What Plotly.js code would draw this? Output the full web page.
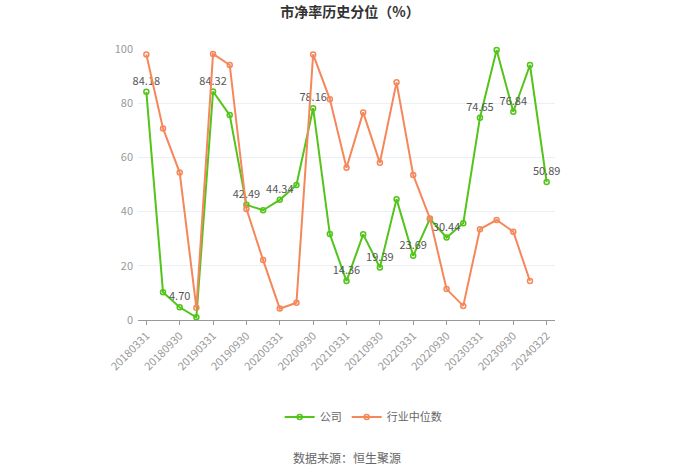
<!DOCTYPE html>
<html>
<head>
<meta charset="utf-8">
<script src="https://cdn.plot.ly/plotly-3.0.1.min.js"></script>
<style>html,body{margin:0;padding:0;background:#fff;}#chart{width:700px;height:473px;}</style>
</head>
<body>
<div id="chart"></div>
<script>
const categories = ["20180331","20180630","20180930","20181231","20190331","20190630","20190930","20191231","20200331","20200630","20200930","20201231","20210331","20210630","20210930","20211231","20220331","20220630","20220930","20221231","20230331","20230630","20230930","20231231","20240322"];
const companyValues = [84.18,10.2,4.70,1.0,84.32,75.6,42.49,40.5,44.34,49.8,78.16,31.7,14.36,31.6,19.39,44.6,23.69,37.3,30.44,35.7,74.65,99.6,76.84,94.1,50.89];
const industryValues = [98.0,70.7,54.4,4.5,98.2,94.1,41.0,22.1,4.2,6.4,98.0,81.5,56.2,76.6,58.0,87.7,53.5,37.5,11.4,5.2,33.5,36.9,32.6,14.4,null];
const tickLabels = categories.filter((c,i)=>i%2===0);
const labelText = companyValues.map((v,i)=> i%2===0 ? v.toFixed(2) : "");

const green = "#52c41a";
const orange = "#f5875a";
const font = "Noto Sans CJK SC, Noto Sans, sans-serif";

const traces = [
  {
    x: categories, y: companyValues, name: "公司", type: "scatter", mode: "lines+markers+text",
    text: labelText, textposition: "top center",
    textfont: {family: font, size: 11, color: "#555"},
    line: {color: green, width: 2},
    marker: {symbol: "circle-open", size: 5, color: green, line: {width: 1.5, color: green}},
    cliponaxis: false
  },
  {
    x: categories, y: industryValues, name: "行业中位数", type: "scatter", mode: "lines+markers",
    line: {color: orange, width: 2},
    marker: {symbol: "circle-open", size: 5, color: orange, line: {width: 1.5, color: orange}},
    cliponaxis: false
  }
];

const layout = {
  width: 700, height: 473,
  margin: {l: 138, r: 145, t: 49, b: 153},
  paper_bgcolor: "#fff", plot_bgcolor: "#fff",
  font: {family: font, size: 11, color: "#999"},
  title: {text: "市净率历史分位（%）", x: 0.5, xanchor: "center", y: 0.975, yanchor: "middle",
          font: {family: font, size: 14, color: "#333", weight: "bold"}},
  showlegend: true,
  legend: {orientation: "h", x: 0.54, xanchor: "center", y: -0.358, yanchor: "middle",
           font: {family: font, size: 11, color: "#666"}},
  xaxis: {
    type: "category", range: [-0.5, 24.5],
    tickmode: "array", tickvals: tickLabels, ticktext: tickLabels,
    tickangle: -45, ticks: "outside", ticklen: 4, tickcolor: "#999",
    showline: true, linecolor: "#999", linewidth: 1,
    showgrid: false, zeroline: false,
    tickfont: {family: font, size: 11, color: "#999"}
  },
  yaxis: {
    range: [0, 100], tickvals: [0,20,40,60,80,100],
    showgrid: true, gridcolor: "#eceff3", gridwidth: 1,
    zeroline: false, showline: false, ticks: "", ticklabelstandoff: 4,
    tickfont: {family: font, size: 11, color: "#999"}
  },
  annotations: [
    {text: "数据来源：恒生聚源", xref: "paper", yref: "paper", x: 0.5, y: -0.506,
     xanchor: "center", yanchor: "middle", showarrow: false,
     font: {family: font, size: 12, color: "#666"}}
  ]
};

Plotly.newPlot("chart", traces, layout, {displayModeBar: false, staticPlot: true});
</script>
</body>
</html>
